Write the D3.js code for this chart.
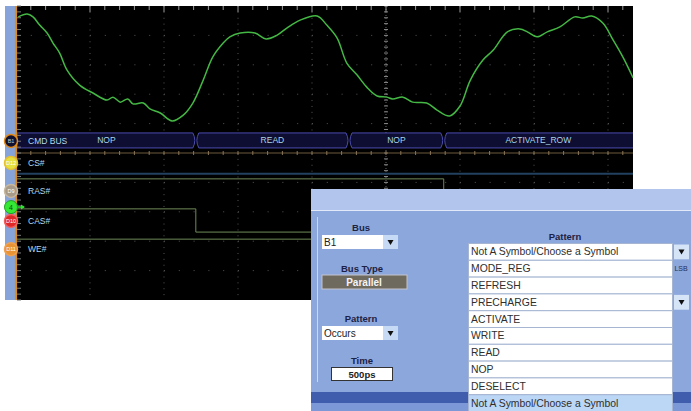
<!DOCTYPE html>
<head>
  <script src="https://d3js.org/d3.v7.min.js"></script>
  <style>
    body { margin: 0; background: #fff; }
    text { font-family: "Liberation Sans", Arial, sans-serif; }
  </style>
</head>
<body>
<script type="text/javascript">
// ---- data (time in divisions, level in divisions) ----
var traceT = [0.03,0.15,0.23,0.32,0.42,0.50,0.59,0.69,0.86,1.04,1.23,1.31,1.41,1.51,1.58,1.72,1.81,1.95,2.11,2.26,2.39,2.53,2.66,2.80,2.89,3.03,3.23,3.38,3.53,3.66,3.84,4.07,4.20,4.34,4.47,4.61,4.74,4.88,5.01,5.09,5.23,5.36,5.55,5.69,5.86,6.00,6.14,6.31,6.45,6.64,6.81,6.91,7.04,7.18,7.35,7.55,7.66,7.78,7.93,8.07,8.20,8.34];
var traceV = [4.63,4.73,4.63,4.35,4.08,3.74,3.40,2.82,2.31,2.04,1.80,1.90,1.73,1.84,1.67,1.70,1.50,1.36,1.09,1.29,1.70,2.48,3.27,3.74,3.95,4.08,4.08,3.88,4.01,4.25,4.52,4.66,4.35,3.91,3.06,2.65,2.24,1.94,1.90,1.84,1.90,1.73,1.70,1.46,1.26,1.60,2.48,3.16,3.50,4.12,4.22,4.12,3.95,4.12,4.29,4.63,4.59,4.66,4.42,3.84,3.27,2.55];

var busLabels = ["NOP", "READ", "NOP", "ACTIVATE_ROW"];
var busStart  = [0, 2.43, 4.5, 5.78];
var busEnd    = [2.43, 4.5, 5.78, 8.6];

var chanNames  = ["CMD BUS", "CS#", "RAS#", "CAS#", "WE#"];
var chanBadges = ["B1", "D12", "D9", "D10", "D11"];
var chanPos    = [0.41, -0.34, -1.29, -2.31, -3.27];

// digital levels: [t, level]
var csLine  = [[0, -0.71], [8.6, -0.71]];
var rasLine = [[0, -0.88], [5.78, -1.6], [8.6, -1.6]];
var casLine = [[0, -1.90], [2.43, -2.69], [8.6, -2.69]];
var weLine  = [[0, -2.93], [8.6, -2.93]];

var patternOptions = ["Not A Symbol/Choose a Symbol", "MODE_REG", "REFRESH", "PRECHARGE", "ACTIVATE", "WRITE", "READ", "NOP", "DESELECT", "Not A Symbol/Choose a Symbol"];

// ---- setup ----
var w = 691, h = 411;
var svg = d3.select("body").append("svg").attr("width", w).attr("height", h);
svg.append("rect").attr("width", w).attr("height", h).attr("fill", "#fff");

var x = d3.scaleLinear().domain([0, 10]).range([16, 756]);
var y = d3.scaleLinear().domain([5, -5]).range([6, 300]);
var scrR = 633;

// scope frame
svg.append("rect").attr("x", 5).attr("y", 6).attr("width", 11).attr("height", 294).attr("fill", "#86a4da");
svg.append("rect").attr("x", 16).attr("y", 6).attr("width", scrR - 16).attr("height", 294).attr("fill", "#000");

svg.append("clipPath").attr("id", "scr").append("rect")
  .attr("x", 16).attr("y", 6).attr("width", scrR - 16).attr("height", 294);
var g = svg.append("g").attr("clip-path", "url(#scr)");

// grid
d3.range(1, 10).forEach(function(i){
  if (i == 5) return;
  g.append("line").attr("x1", x(i)).attr("x2", x(i)).attr("y1", y(5)).attr("y2", y(-5))
    .attr("stroke", "#555").attr("stroke-dasharray", "1," + (29.4/5 - 1));
});
d3.range(-4, 5).forEach(function(i){
  if (i == 0) return;
  g.append("line").attr("x1", x(0)).attr("x2", x(10)).attr("y1", y(i)).attr("y2", y(i))
    .attr("stroke", "#555").attr("stroke-dasharray", "1," + (74/5 - 1));
});
// center axes with minor ticks
g.append("line").attr("x1", x(5)).attr("x2", x(5)).attr("y1", y(5)).attr("y2", y(-5))
  .attr("stroke", "#666").attr("stroke-dasharray", "1,2");
d3.range(-25, 26).forEach(function(i){
  g.append("line").attr("x1", x(5) - 2).attr("x2", x(5) + 2).attr("y1", y(i/5)).attr("y2", y(i/5))
    .attr("stroke", "#888");
});
g.append("line").attr("x1", x(0)).attr("x2", x(10)).attr("y1", y(0)).attr("y2", y(0))
  .attr("stroke", "#6e5a3c").attr("stroke-width", 1.2);
d3.range(0, 51).forEach(function(i){
  g.append("line").attr("x1", x(i/5)).attr("x2", x(i/5)).attr("y1", y(0) - 2).attr("y2", y(0) + 2)
    .attr("stroke", "#8a7658");
});
// top edge ticks
d3.range(0, 51).forEach(function(i){
  g.append("line").attr("x1", x(i/5)).attr("x2", x(i/5)).attr("y1", y(5)).attr("y2", y(5) + (i % 5 == 0 ? 6 : 4))
    .attr("stroke", "#9a9a9a");
});

// left orange axis
svg.append("line").attr("x1", 16).attr("x2", 16).attr("y1", 6).attr("y2", 300)
  .attr("stroke", "#d98c22").attr("stroke-width", 2.2);
d3.range(-25, 26).forEach(function(i){
  svg.append("line").attr("x1", 17).attr("x2", 21).attr("y1", y(i/5)).attr("y2", y(i/5))
    .attr("stroke", "#7a7a7a");
});

// bus band, segments joined by ")(" shaped transitions
var busTop = y(chanPos[0]) - 8, busBot = y(chanPos[0]) + 7;
var busMid = (busTop + busBot) / 2;
busLabels.forEach(function(lab, i){
  var x0 = x(busStart[i]) + (i == 0 ? 1 : 0), x1 = x(busEnd[i]);
  var left = i == 0 ? "M" + x0 + "," + busBot + "V" + busTop
    : "M" + (x0 + 3) + "," + busBot + "Q" + (x0 - 1) + "," + busMid + " " + (x0 + 3) + "," + busTop;
  var d = left + "H" + (x1 - 3) + "Q" + (x1 + 1) + "," + busMid + " " + (x1 - 3) + "," + busBot + "Z";
  g.append("path").attr("d", d)
    .attr("fill", "#0e0e32").attr("stroke", "#4c4cb0").attr("stroke-width", 1);
  var cx = (x0 + Math.min(x1, scrR)) / 2;
  g.append("text").attr("x", cx).attr("y", busMid + 3).attr("text-anchor", "middle")
    .attr("font-size", 8.5).attr("fill", "#a8d6e6").text(lab);
});

// digital traces
var dline = d3.line().x(function(d){ return x(d[0]); }).y(function(d){ return y(d[1]); }).curve(d3.curveStepAfter);
g.append("path").datum(csLine).attr("d", dline).attr("fill", "none").attr("stroke", "#22405f").attr("stroke-width", 2);
[rasLine, casLine, weLine].forEach(function(ln){
  g.append("path").datum(ln).attr("d", dline).attr("fill", "none").attr("stroke", "#6f8a58").attr("stroke-width", 1);
});

// analog trace
var aline = d3.line().x(function(d, i){ return x(traceT[i]); }).y(function(d){ return y(d); }).curve(d3.curveCatmullRom);
g.append("path").datum(traceV).attr("d", aline).attr("fill", "none")
  .attr("stroke", "#44b844").attr("stroke-width", 1.5);

// channel labels and badges
var badgeFill = ["#101030", "#e6e040", "#a89a88", "#e02828", "#e89434"];
var badgeRing = ["#e08a1c", "#e6c030", "#c8b8a0", "#f06060", "#f0a050"];
chanNames.forEach(function(n, i){
  svg.append("text").attr("x", 28).attr("y", y(chanPos[i]) + 3).attr("font-size", 8.5)
    .attr("fill", "#b4d8e8").text(n);
  svg.append("circle").attr("cx", 11).attr("cy", y(chanPos[i])).attr("r", 6.5)
    .attr("fill", badgeFill[i]).attr("stroke", badgeRing[i]).attr("stroke-width", 1.5);
  svg.append("text").attr("x", 11).attr("y", y(chanPos[i]) + 2).attr("text-anchor", "middle")
    .attr("font-size", 5.5).attr("fill", i == 0 ? "#ccc" : "#fff").text(chanBadges[i]);
});
// analog channel 4 ground marker
svg.append("line").attr("x1", 14).attr("x2", 24).attr("y1", y(-1.84)).attr("y2", y(-1.84))
  .attr("stroke", "#30e030").attr("stroke-width", 1.5);
svg.append("path").attr("d", "M" + 25 + "," + y(-1.84) + "l-4,-2.5v5z").attr("fill", "#30e030");
svg.append("circle").attr("cx", 11).attr("cy", y(-1.84)).attr("r", 6.5).attr("fill", "#34e834").attr("stroke", "#20a020");
svg.append("text").attr("x", 11).attr("y", y(-1.84) + 2.5).attr("text-anchor", "middle")
  .attr("font-size", 7).attr("fill", "#114411").text("4");

// ---- dialog ----
var dlg = svg.append("g");
dlg.append("rect").attr("x", 311).attr("y", 189).attr("width", 380).attr("height", 222).attr("fill", "#8ca7dc");
dlg.append("rect").attr("x", 311).attr("y", 189).attr("width", 380).attr("height", 21).attr("fill", "#b2c5ec");
dlg.append("line").attr("x1", 311).attr("x2", 691).attr("y1", 210.5).attr("y2", 210.5).attr("stroke", "#e2eafa");
dlg.append("line").attr("x1", 317.5).attr("x2", 317.5).attr("y1", 217).attr("y2", 382).attr("stroke", "#cad8f4");
dlg.append("rect").attr("x", 311).attr("y", 392).attr("width", 380).attr("height", 11).attr("fill", "#3f5dac");
dlg.append("rect").attr("x", 311).attr("y", 403).attr("width", 380).attr("height", 8).attr("fill", "#7d98d6");

function label(t, cx, cy){
  dlg.append("text").attr("x", cx).attr("y", cy).attr("text-anchor", "middle")
    .attr("font-size", 9.5).attr("font-weight", "bold").attr("fill", "#1c2244").text(t);
}
function dropdown(t, x0, y0){
  dlg.append("rect").attr("x", x0).attr("y", y0).attr("width", 61).attr("height", 14).attr("fill", "#fff");
  dlg.append("text").attr("x", x0 + 2).attr("y", y0 + 10.5).attr("font-size", 10).attr("fill", "#222").text(t);
  dlg.append("rect").attr("x", x0 + 61).attr("y", y0).attr("width", 15).attr("height", 14).attr("fill", "#c6daf6");
  dlg.append("path").attr("d", "M" + (x0 + 65.5) + "," + (y0 + 5) + "h6l-3,5z").attr("fill", "#111");
}
label("Bus", 361, 231);
dropdown("B1", 322, 235);
label("Bus Type", 362, 272);
dlg.append("rect").attr("x", 322).attr("y", 275).attr("width", 85).attr("height", 14)
  .attr("fill", "#6e6a5e").attr("stroke", "#c4c4cc");
dlg.append("text").attr("x", 364).attr("y", 286).attr("text-anchor", "middle").attr("font-size", 10)
  .attr("font-weight", "bold").attr("fill", "#f4f4f4").text("Parallel");
label("Pattern", 361, 322);
dropdown("Occurs", 322, 326);
label("Time", 362, 364);
dlg.append("rect").attr("x", 331.5).attr("y", 367.5).attr("width", 61).attr("height", 13)
  .attr("fill", "#fff").attr("stroke", "#333");
dlg.append("text").attr("x", 362).attr("y", 378).attr("text-anchor", "middle").attr("font-size", 9.5)
  .attr("font-weight", "bold").attr("fill", "#222").text("500ps");

// pattern list
label("Pattern", 565, 240);
var rows = d3.scaleBand().domain(d3.range(patternOptions.length)).range([243.5, 243.5 + 16.8 * patternOptions.length]);
var rg = dlg.selectAll("g.row").data(patternOptions).enter().append("g");
rg.append("rect").attr("x", 468.5).attr("y", function(d, i){ return rows(i); })
  .attr("width", 204).attr("height", rows.bandwidth())
  .attr("fill", function(d, i){ return i == patternOptions.length - 1 ? "#bcd6f6" : "#fff"; })
  .attr("stroke", "#a6b6d2");
rg.append("text").attr("x", 471).attr("y", function(d, i){ return rows(i) + rows.bandwidth() / 2 + 3.5; })
  .attr("font-size", 10.4).attr("fill", "#2e2e2e").text(function(d){ return d; });
[0, 3].forEach(function(i){
  dlg.append("rect").attr("x", 674).attr("y", rows(i) + 1).attr("width", 15).attr("height", rows.bandwidth() - 2).attr("fill", "#d6e4f8");
  dlg.append("path").attr("d", "M" + 678.5 + "," + (rows(i) + 6) + "h6l-3,5z").attr("fill", "#111");
});
dlg.append("text").attr("x", 681).attr("y", rows(1) + 11).attr("text-anchor", "middle")
  .attr("font-size", 7).attr("fill", "#2a3050").text("LSB");
</script>
</body>
